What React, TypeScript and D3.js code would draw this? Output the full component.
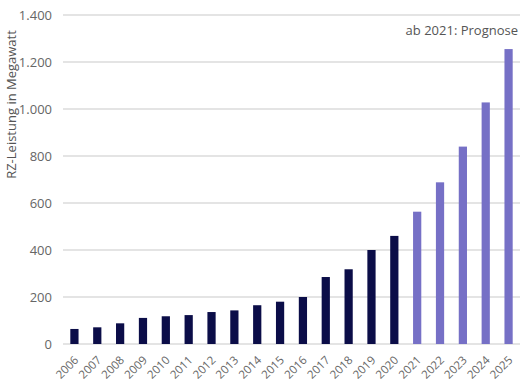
import * as React from 'react';
import { scaleBand, scaleLinear } from 'd3';

const years = ['2006', '2007', '2008', '2009', '2010', '2011', '2012', '2013', '2014', '2015',
  '2016', '2017', '2018', '2019', '2020', '2021', '2022', '2023', '2024', '2025'];
const values = [64, 71, 88, 111, 118, 123, 136, 143, 165, 180,
  200, 285, 318, 400, 460, 563, 688, 840, 1028, 1255];
const firstForecast = '2021';
const yTicks = [0, 200, 400, 600, 800, 1000, 1200, 1400];

const W = 528;
const H = 388;
const margin = { top: 15, right: 8, bottom: 44, left: 63 };
const font = '"Open Sans", "Noto Sans", sans-serif';

const fmt = (v: number) => v.toLocaleString('de-DE');

export default function App(): JSX.Element {
  const x = scaleBand<string>()
    .domain(years)
    .range([margin.left, W - margin.right])
    .paddingInner(0.64)
    .paddingOuter(0.32);
  const y = scaleLinear()
    .domain([0, 1400])
    .range([H - margin.bottom, margin.top]);
  const forecastIdx = years.indexOf(firstForecast);

  return (
    <svg width={W} height={H} style={{ position: 'absolute', left: 0, top: 0, background: '#fff' }}>
      {yTicks.map(t => (
        <g key={t}>
          <line x1={margin.left} x2={W - margin.right} y1={y(t)} y2={y(t)} stroke="#c9c9c9" strokeWidth={1} />
          <text x={52} y={y(t)} dy="0.35em" textAnchor="end" fontFamily={font} fontSize={13} fill="#666">
            {fmt(t)}
          </text>
        </g>
      ))}
      {years.map((yr, i) => (
        <rect
          key={yr}
          x={x(yr)}
          y={y(values[i])}
          width={x.bandwidth()}
          height={y(0) - y(values[i])}
          fill={i >= forecastIdx ? '#7670c6' : '#0b0d48'}
        />
      ))}
      {years.map(yr => {
        const cx = (x(yr) ?? 0) + x.bandwidth() / 2 + 2;
        return (
          <text key={yr} transform={`translate(${cx},${y(0) + 14}) rotate(-45)`} textAnchor="end"
            dy="0.35em" fontFamily={font} fontSize={11.5} fill="#666">
            {yr}
          </text>
        );
      })}
      <text transform={`translate(16,${(margin.top + y(0)) / 2 - 75}) rotate(-90)`} textAnchor="middle"
        fontFamily={font} fontSize={13} fill="#555">
        RZ-Leistung in Megawatt
      </text>
      <text x={W - margin.right - 2} y={35} textAnchor="end" fontFamily={font} fontSize={13} fill="#555">
        ab 2021: Prognose
      </text>
    </svg>
  );
}
